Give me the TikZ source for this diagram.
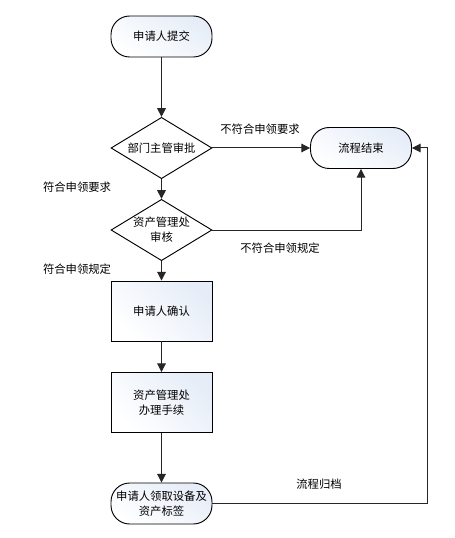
\documentclass[tikz,border=0pt]{standalone}
\usepackage{fontspec}
\setmainfont{Noto Sans CJK SC}
\usetikzlibrary{shapes.geometric,arrows.meta,shadings}
\definecolor{boxblue}{RGB}{230,237,248}
\tikzset{
  x=0.75pt, y=-0.75pt,
  every node/.style={font=\fontsize{8.5pt}{11pt}\selectfont, align=center},
  term/.style={draw=black, line width=0.7pt, rounded corners=14pt, minimum width=75.75pt, minimum height=30.75pt, inner sep=1pt, top color=boxblue, bottom color=white, shading angle=-30},
  procbox/.style={draw=black, line width=0.7pt, minimum width=75.75pt, minimum height=45pt, inner sep=1pt, left color=boxblue, right color=white, shading angle=-45},
  decide/.style={draw=black, line width=0.7pt, diamond, aspect=1.65, minimum width=75.75pt, minimum height=46pt, inner sep=0pt, fill=white},
  conn/.style={draw=black!85, line width=0.75pt, -{Triangle[length=6.5pt,width=6.5pt]}},
  lbl/.style={font=\fontsize{8.5pt}{10pt}\selectfont}
}
\begin{document}
\begin{tikzpicture}
\useasboundingbox (0,0) rectangle (454,538);
\node[term] (start) at (161.5,36.5) {申请人提交};
\node[decide] (d1) at (161.5,148) {部门主管审批};
\node[decide] (d2) at (161.5,230) {资产管理处\\审核};
\node[term] (end) at (361,148) {流程结束};
\node[procbox] (p1) at (161.5,311) {申请人确认};
\node[procbox] (p2) at (161.5,402.5) {资产管理处\\办理手续};
\node[term] (fin) at (161.5,503.5) {申请人领取设备及\\资产标签};
\coordinate (c1) at (361,230);
\coordinate (c2) at (427,503.5);
\coordinate (c3) at (427,148);
\draw[conn] (start) -- (d1);
\draw[conn] (d1) -- (d2);
\draw[conn] (d1) -- (end);
\draw[conn] (d2.east) -- (c1) -- (end.south);
\draw[conn] (d2) -- (p1);
\draw[conn] (p1) -- (p2);
\draw[conn] (p2) -- (fin);
\draw[conn] (fin.east) -- (c2) -- (c3) -- (end.east);
\node[lbl] (l1) at (260,129) {不符合申领要求};
\node[lbl] (l2) at (280,248) {不符合申领规定};
\node[lbl] (l3) at (77,187) {符合申领要求};
\node[lbl] (l4) at (77,269) {符合申领规定};
\node[lbl] (l5) at (319,484) {流程归档};
\end{tikzpicture}
\end{document}
